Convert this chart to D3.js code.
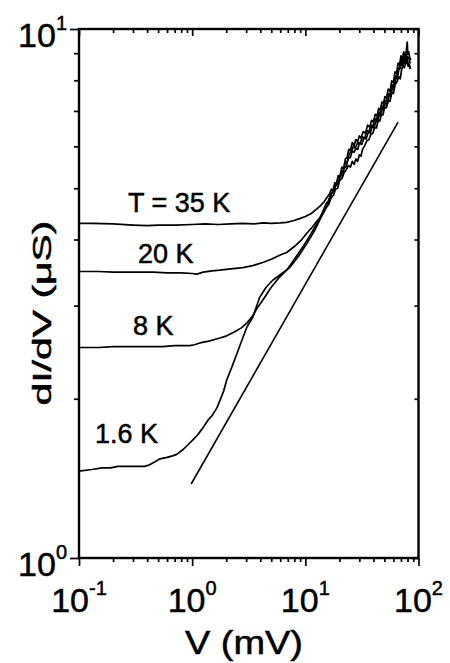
<!DOCTYPE html>
<html><head><meta charset="utf-8">
<script src="https://cdn.jsdelivr.net/npm/d3@7"></script>
<style>html,body{margin:0;padding:0;background:#fff}svg{display:block}</style>
</head><body><svg id="c" width="450" height="663"></svg>
<script>
// V (mV), dI/dV (µS)
const curve35K = [[0.1,4.29],[0.13,4.29],[0.2,4.28],[0.3,4.26],[0.4,4.25],[0.5,4.26],[0.7,4.26],[1.0,4.27],[1.3,4.28],[1.7,4.27],[2.2,4.28],[2.8,4.29],[3.5,4.28],[4.3,4.30],[5.0,4.29],[6.0,4.30],[6.84,4.31],[7.8,4.34],[8.9,4.38],[10,4.42],[11.3,4.48],[12.5,4.56],[13.4,4.62],[14.5,4.70],[15.5,4.80],
  [16.4,4.88],[17,4.98],[17.6,4.95],[18.2,5.12],[18.8,5.10],[19.5,5.28],[20.2,5.25],[21,5.48],[21.8,5.45],[22.6,5.68],[23.4,5.72],[24.2,5.92],[25,5.88],[26,6.10],[27,6.02],[28,6.18],[29,6.12],[30,6.28],[31,6.22],[32.5,6.40],[34,6.35],[35.5,6.58],[37,6.52],[38.5,6.72],[40,6.68],[41.5,6.90],[43,6.85],[44.5,7.08],[46,7.02],[47.5,7.28],[49,7.22],[50.5,7.45],[52,7.40],[54,7.70],[56,7.62],[58,7.98],[60,7.92],[62,8.30],[64,8.25],[66,8.62],[68,8.55],[70,8.90],[72,8.75],[74,9.05],[76,8.85],[78,9.10],[79.5,9.45],[80.5,8.95],[82,9.05],[84,8.80],[86,8.75]];
const curve20K = [[0.1,3.48],[0.15,3.48],[0.2,3.47],[0.3,3.47],[0.45,3.47],[0.6,3.46],[0.8,3.46],[1.0,3.45],[1.1,3.44],[1.25,3.47],[1.5,3.49],[1.75,3.50],[2.2,3.52],[2.8,3.54],[3.43,3.57],[4.2,3.62],[5.0,3.67],[6.0,3.74],[6.84,3.78],[8.0,3.88],[9.3,4.00],[10.3,4.11],[11.5,4.22],[12.5,4.32],[13.4,4.39],[14.5,4.50],[15.5,4.62],
  [16.4,4.80],[17.2,4.90],[18,4.98],[18.8,5.10],[19.6,5.14],[20.5,5.32],[21.5,5.38],[22.5,5.58],[23.5,5.62],[24.5,5.82],[25.5,5.85],[26.5,6.00],[27.5,5.95],[29,6.10],[30.5,6.08],[32,6.25],[33.5,6.22],[35,6.42],[36.5,6.40],[38,6.58],[39.5,6.55],[41,6.78],[42.5,6.72],[44,6.95],[45.5,6.92],[47,7.15],[48.5,7.10],[50,7.32],[52,7.30],[54,7.55],[56,7.50],[58,7.85],[60,7.80],[62,8.15],[64,8.10],[66,8.45],[68,8.40],[70,8.75],[72,8.60],[74,8.85],[76,8.70],[78,8.95],[80,8.80],[82,8.85],[84.5,8.60]];
const curve8K = [[0.1,2.50],[0.15,2.50],[0.2,2.51],[0.3,2.51],[0.4,2.51],[0.55,2.51],[0.7,2.52],[0.85,2.52],[0.95,2.52],[1.05,2.53],[1.17,2.55],[1.4,2.57],[1.7,2.60],[2.02,2.63],[2.4,2.68],[2.7,2.72],[3.04,2.78],[3.43,2.87],[3.8,2.98],[4.2,3.07],[5.0,3.25],[5.8,3.38],[6.84,3.50],[8.0,3.67],[9.48,3.87],[11.2,4.10],[13.0,4.33],
  [14.5,4.55],[15.3,4.68],[16.1,4.74],[16.9,4.88],[17.7,4.92],[18.5,5.05],[19.3,5.08],[20.2,5.25],[21.1,5.30],[22,5.45],[23,5.50],[24,5.70],[25,5.72],[26,5.88],[27,5.85],[28,5.95],[29,5.92],[30,6.08],[31.5,6.05],[33,6.22],[34.5,6.20],[36,6.38],[37.5,6.35],[39,6.55],[40.5,6.50],[42,6.70],[43.5,6.68],[45,6.90],[46.5,6.86],[48,7.08],[49.5,7.05],[51,7.25],[53,7.22],[55,7.48],[57,7.45],[59,7.78],[61,7.72],[63,8.10],[65,8.05],[67,8.38],[69,8.45],[71,8.62],[73,8.50],[75,8.72],[77,8.60],[79,8.85],[81,8.62],[83,8.55],[85,8.40]];
const curve1p6K = [[0.1,1.46],[0.13,1.47],[0.16,1.48],[0.19,1.48],[0.22,1.49],[0.27,1.49],[0.33,1.49],[0.38,1.49],[0.42,1.50],[0.47,1.52],[0.52,1.54],[0.6,1.55],[0.67,1.56],[0.73,1.57],[0.82,1.60],[0.9,1.63],[1.01,1.67],[1.12,1.71],[1.24,1.76],[1.375,1.82],[1.5,1.86],[1.65,1.92],[1.75,1.98],[1.9,2.07],[2.02,2.17],[2.25,2.30],[2.48,2.43],[2.75,2.58],[3.04,2.73],[3.43,2.85],[3.95,3.11],[4.5,3.25],[5.15,3.35],[6.2,3.45],[7.28,3.54],[8.7,3.72],[10.3,3.93],[12,4.15],[13.4,4.35],
  [14.5,4.50],[15.3,4.60],[16.1,4.66],[16.9,4.80],[17.7,4.85],[18.5,4.98],[19.3,5.00],[20.2,5.18],[21.1,5.22],[22,5.35],[23,5.42],[24,5.52],[25,5.48],[26,5.62],[27,5.55],[28,5.68],[29,5.62],[30,5.78],[31,5.75],[32,5.92],[33.5,6.02],[35,6.15],[36.5,6.18],[38,6.32],[39.5,6.35],[41,6.52],[42.5,6.50],[44,6.72],[45.5,6.70],[47,6.90],[48.5,6.88],[50,7.08],[52,7.10],[54,7.32],[56,7.30],[58,7.58],[60,7.55],[62,7.85],[64,7.92],[66,8.05],[68,8.12],[69,8.05],[71,8.40],[73,8.50],[75,8.45],[77,8.62],[79,8.70],[81,8.50],[83,8.55],[85,8.40]];
const guideLine = [[0.98,1.38],[66,6.67]];
const curves = [curve35K, curve20K, curve8K, curve1p6K];
const curveLabels = ["T = 35 K", "20 K", "8 K", "1.6 K"];
const labelV = [0.271, 0.332, 0.300, 0.1385];
const labelG = [4.51, 3.61, 2.64, 1.65];
const xTickExps = [-1, 0, 1, 2];
const yTickExps = [0, 1];
const xTitle = "V (mV)";
const yTitle = "dI/dV (\u03BCS)";

const FONT = "'Liberation Sans', Arial, Helvetica, sans-serif";
const svg = d3.select("#c");
const L = 79, R = 418.5, T = 29, B = 558;
const x = d3.scaleLog().domain([0.1, 100]).range([L, R]);
const y = d3.scaleLog().domain([1, 10]).range([B, T]);

const xAll = x.ticks(), yAll = y.ticks();
const isMajor = v => Math.abs(Math.log10(v) - Math.round(Math.log10(v))) < 1e-6;
const xMinor = xAll.filter(v => !isMajor(v)), xMajor = xAll.filter(isMajor);
const yMinor = yAll.filter(v => !isMajor(v)), yMajor = yAll.filter(isMajor);

function drawAxis(gen, vals, size, tr) {
  const g = svg.append("g").attr("transform", tr)
    .call(gen.tickValues(vals).tickSize(size).tickFormat(""));
  g.select(".domain").remove();
  g.selectAll("line").attr("stroke", "#000").attr("stroke-width", 1.7);
}
drawAxis(d3.axisBottom(x), xMinor, 4, `translate(0,${B})`);
drawAxis(d3.axisBottom(x), xMajor, 8, `translate(0,${B})`);
drawAxis(d3.axisTop(x), xMinor, -4, `translate(0,${T})`);
drawAxis(d3.axisTop(x), xMajor, -7, `translate(0,${T})`);
drawAxis(d3.axisLeft(y), yMinor, 5, `translate(${L},0)`);
drawAxis(d3.axisLeft(y), yMajor, 9, `translate(${L},0)`);
drawAxis(d3.axisRight(y), yMinor, -4, `translate(${R},0)`);
drawAxis(d3.axisRight(y), yMajor, -7, `translate(${R},0)`);

svg.append("rect").attr("x", L).attr("y", T).attr("width", R - L).attr("height", B - T)
  .attr("fill", "none").attr("stroke", "#000").attr("stroke-width", 2.4);

const line = d3.line().x(d => x(d[0])).y(d => y(d[1]));
svg.append("g").selectAll("path").data(curves).join("path")
  .attr("d", line).attr("fill", "none").attr("stroke", "#000")
  .attr("stroke-width", 1.7).attr("stroke-linejoin", "round");
svg.append("path").attr("d", line(guideLine)).attr("fill", "none")
  .attr("stroke", "#000").attr("stroke-width", 1.6);

function heavy(sel, w) { return sel.attr("stroke", "#000").attr("stroke-width", w).attr("paint-order", "stroke"); }

heavy(svg.append("g").selectAll("text").data(curveLabels).join("text")
  .attr("x", (d, i) => x(labelV[i])).attr("y", (d, i) => y(labelG[i]))
  .attr("font-family", FONT).attr("font-size", 27).attr("fill", "#000")
  .text(d => d), 0.5);

// x tick labels
const xt = heavy(svg.append("g").selectAll("text").data(xTickExps).join("text")
  .attr("x", d => x(Math.pow(10, d))).attr("y", 612)
  .attr("text-anchor", "middle").attr("font-family", FONT).attr("fill", "#000"), 0.5);
xt.append("tspan").attr("font-size", 34).text("10");
xt.append("tspan").attr("font-size", 20).attr("dy", -17).text(d => d < 0 ? "-" + Math.abs(d) : String(d));

// y tick labels
const yt = heavy(svg.append("g").selectAll("text").data(yTickExps).join("text")
  .attr("x", 67).attr("y", d => y(Math.pow(10, d)) + 18)
  .attr("text-anchor", "end").attr("font-family", FONT).attr("fill", "#000"), 0.5);
yt.append("tspan").attr("font-size", 34).text("10");
yt.append("tspan").attr("font-size", 20).attr("dy", -17).text(d => String(d));

heavy(svg.append("text").attr("x", 244).attr("y", 654).attr("text-anchor", "middle")
  .attr("font-family", FONT).attr("font-size", 33).attr("fill", "#000")
  .attr("textLength", 118).attr("lengthAdjust", "spacingAndGlyphs").text(xTitle), 0.5);

heavy(svg.append("text").attr("transform", "translate(51,313) rotate(-90)")
  .attr("text-anchor", "middle").attr("font-family", FONT).attr("font-size", 25).attr("fill", "#000")
  .attr("textLength", 185).attr("lengthAdjust", "spacingAndGlyphs").text(yTitle), 0.5);
</script></body></html>
